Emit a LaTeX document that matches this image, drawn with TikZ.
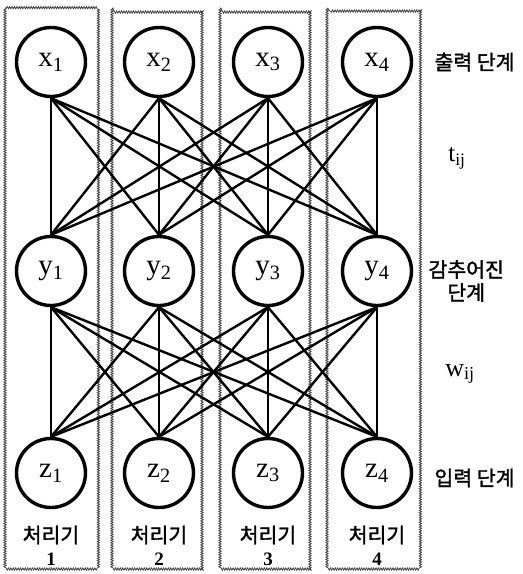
\documentclass[tikz,border=0pt]{standalone}
\usepackage{fontspec}
\setmainfont{Liberation Serif}
\newfontfamily\kor[FakeBold=1.6]{Noto Sans CJK KR}
\usepackage{tikz}
\usetikzlibrary{calc,positioning,decorations.pathmorphing}

\begin{document}
\begin{tikzpicture}[x=1pt, y=-1pt]
  \useasboundingbox (0,0) rectangle (523,574);

  % ---- Styles ------------------------------------------------
  \tikzstyle{unit}=[circle, draw, line width=3.4pt, minimum size=69pt,
                    inner sep=0pt, font=\fontsize{29}{30}\selectfont]
  \tikzstyle{proc}=[draw, line width=0.8pt, black!75,
                    decorate, decoration={snake, amplitude=1.1pt, segment length=2.4pt}]
  \tikzstyle{link}=[line width=2.4pt]
  \tikzstyle{klabel}=[anchor=west, font=\kor\fontsize{20.5}{23}\selectfont]

  % ---- Processor boxes (one per column) ----------------------
  \draw[proc] (5,8)   rectangle (97,567);
  \draw[proc] (112,8) rectangle (202,567);
  \draw[proc] (220,8) rectangle (310,567);
  \draw[proc] (327,8) rectangle (418,567);

  % ---- Units: output x, hidden y, input z --------------------
  \node[unit] (x1) at (51,62)  {x\textsubscript{1}};
  \node[unit] (x2) at (159,62) {x\textsubscript{2}};
  \node[unit] (x3) at (268,62) {x\textsubscript{3}};
  \node[unit] (x4) at (377,62) {x\textsubscript{4}};

  \node[unit] (y1) at (51,271)  {y\textsubscript{1}};
  \node[unit] (y2) at (159,271) {y\textsubscript{2}};
  \node[unit] (y3) at (268,271) {y\textsubscript{3}};
  \node[unit] (y4) at (377,271) {y\textsubscript{4}};

  \node[unit] (z1) at (51,473)  {z\textsubscript{1}};
  \node[unit] (z2) at (159,473) {z\textsubscript{2}};
  \node[unit] (z3) at (268,473) {z\textsubscript{3}};
  \node[unit] (z4) at (377,473) {z\textsubscript{4}};

  % ---- Full connections between layers -----------------------
  \foreach \i in {1,...,4}
    \foreach \j in {1,...,4} {
      \draw[link] (x\i.south) -- (y\j.north);
      \draw[link] (y\i.south) -- (z\j.north);
    }

  % ---- Processor names ---------------------------------------
  \foreach \k/\cx in {1/51, 2/159, 3/268, 4/377} {
    \node[font=\kor\fontsize{20.5}{23}\selectfont] (p\k) at (\cx,535) {처리기};
    \node[font=\fontsize{19}{20}\selectfont\bfseries] (n\k) at (\cx,559) {\k};
  }

  % ---- Layer and weight labels (right side) ------------------
  \node[klabel] (outl) at (431,62)  {출력 단계};
  \node[font=\fontsize{25}{26}\selectfont] (tij) at (457,158) {t\textsubscript{ij}};
  \node[klabel, align=center] (hidl) at (425,281) {감추어진\\단계};
  \node[font=\fontsize{26}{26}\selectfont] (wij) at (460,374) {w\textsubscript{ij}};
  \node[klabel] (inl) at (431,478)  {입력 단계};

\end{tikzpicture}
\end{document}
